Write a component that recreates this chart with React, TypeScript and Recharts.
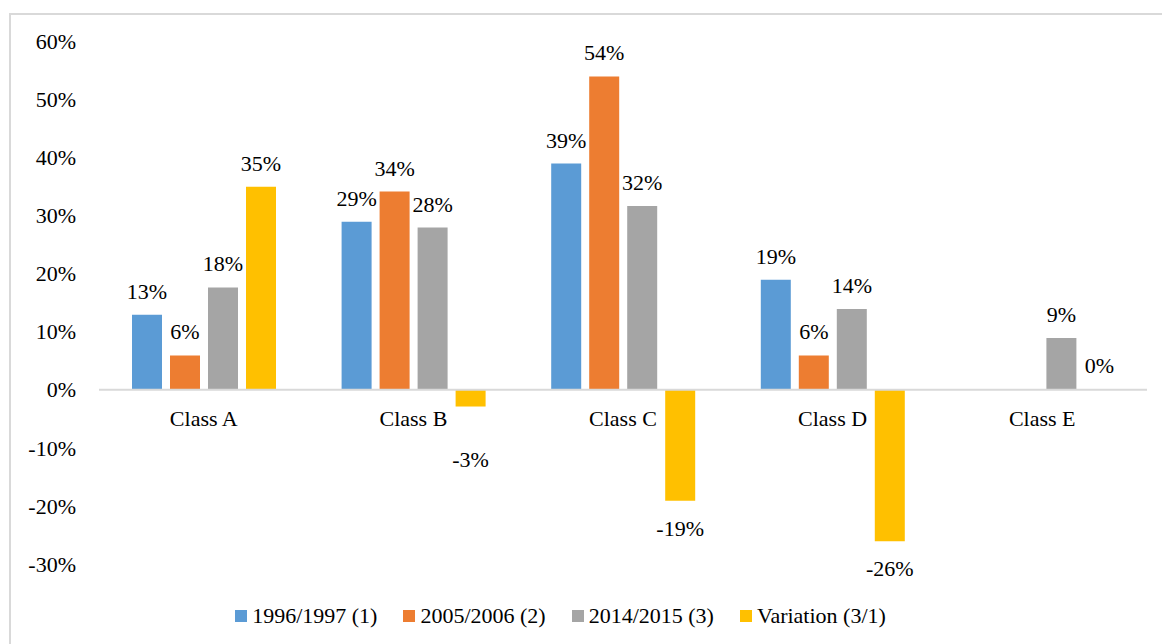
import React from 'react';
import { BarChart, Bar, Line, XAxis, YAxis, ReferenceLine, Legend, LabelList, Rectangle } from 'recharts';

const categories = ['Class A', 'Class B', 'Class C', 'Class D', 'Class E'];
const period1 = [12.9, 28.9, 38.9, 18.9, null];
const period2 = [5.9, 34.1, 53.9, 5.9, null];
const period3 = [17.6, 27.9, 31.6, 13.9, 8.9];
const variation = [34.9, -2.9, -19.1, -26.1, 0];
const yTicks = [-30, -20, -10, 0, 10, 20, 30, 40, 50, 60];

const data = categories.map((name, i) => ({
  name,
  p1: period1[i],
  p2: period2[i],
  p3: period3[i],
  v: variation[i],
}));

const FONT = "'Times New Roman', 'Liberation Serif', serif";

const ValueLabel = (props: any) => {
  const { x, y, width, height, value } = props;
  if (value === null || value === undefined) return null;
  const top = Math.min(y, y + height);
  const bottom = Math.max(y, y + height);
  const cx = x + width / 2;
  let ty;
  if (value >= 0) {
    ty = top - 16;
  } else {
    // negative labels sit under the bar, clear of the category labels
    ty = Math.max(bottom + 35, top + 77);
  }
  return (
    <text x={cx} y={ty} textAnchor="middle" fontFamily={FONT} fontSize={22} fill="#000">
      {Math.round(value)}%
    </text>
  );
};

const CategoryLabel = (props: any) => {
  const { x, y, value } = props;
  return (
    <text x={x} y={y + 36} textAnchor="middle" fontFamily={FONT} fontSize={22} fill="#000">
      {value}
    </text>
  );
};

// zero-valued variation keeps its label but draws no bar
const VariationShape = (props: any) => {
  if (props.payload && props.payload.v === 0) return <g />;
  return <Rectangle {...props} />;
};

const renderLegend = (props: any) => {
  const { payload } = props;
  return (
    <ul style={{ listStyle: 'none', margin: 0, padding: 0, textAlign: 'center', fontFamily: FONT, fontSize: 22, lineHeight: '30px', color: '#000' }}>
      {payload.map((entry: any) => (
        <li key={entry.value} style={{ display: 'inline-block', margin: '0 13px' }}>
          <span style={{ display: 'inline-block', width: 12, height: 12, background: entry.color, marginRight: 5, verticalAlign: 'middle' }} />
          <span style={{ verticalAlign: 'middle' }}>{entry.value}</span>
        </li>
      ))}
    </ul>
  );
};

export default function App() {
  return (
    <div
      style={{
        position: 'fixed',
        left: 9,
        top: 13,
        width: 1151,
        height: 629,
        borderTop: '2px solid #D9D9D9',
        borderLeft: '2px solid #D9D9D9',
        background: '#fff',
      }}
    >
      <BarChart
        width={1151}
        height={629}
        data={data}
        margin={{ top: 26, right: 15, left: 0, bottom: 50 }}
        barSize={30}
        barGap={8}
      >
        <XAxis dataKey="name" hide />
        <YAxis
          domain={[-30, 60]}
          ticks={yTicks}
          width={88}
          axisLine={false}
          tickLine={false}
          tickSize={0}
          tickMargin={23}
          tickFormatter={(v: number) => `${v}%`}
          tick={{ fontFamily: FONT, fontSize: 22, fill: '#000' }}
        />
        <ReferenceLine y={0} stroke="#D9D9D9" strokeWidth={2} />
        <Bar dataKey="p1" name="1996/1997 (1)" fill="#5B9BD5" isAnimationActive={false}>
          <LabelList dataKey="p1" content={ValueLabel} />
        </Bar>
        <Bar dataKey="p2" name="2005/2006 (2)" fill="#ED7D31" isAnimationActive={false}>
          <LabelList dataKey="p2" content={ValueLabel} />
        </Bar>
        <Bar dataKey="p3" name="2014/2015 (3)" fill="#A5A5A5" isAnimationActive={false}>
          <LabelList dataKey="p3" content={ValueLabel} />
        </Bar>
        <Bar
          dataKey="v"
          name="Variation (3/1)"
          fill="#FFC000"
          minPointSize={1}
          shape={VariationShape}
          isAnimationActive={false}
        >
          <LabelList dataKey="v" content={ValueLabel} />
        </Bar>
        <Line
          dataKey={() => 0}
          stroke="none"
          dot={false}
          activeDot={false}
          legendType="none"
          isAnimationActive={false}
        >
          <LabelList dataKey="name" content={CategoryLabel} />
        </Line>
        <Legend
          content={renderLegend}
          height={30}
          verticalAlign="bottom"
          wrapperStyle={{ top: 584, left: 22, bottom: 'auto', width: 1098 }}
        />
      </BarChart>
    </div>
  );
}
